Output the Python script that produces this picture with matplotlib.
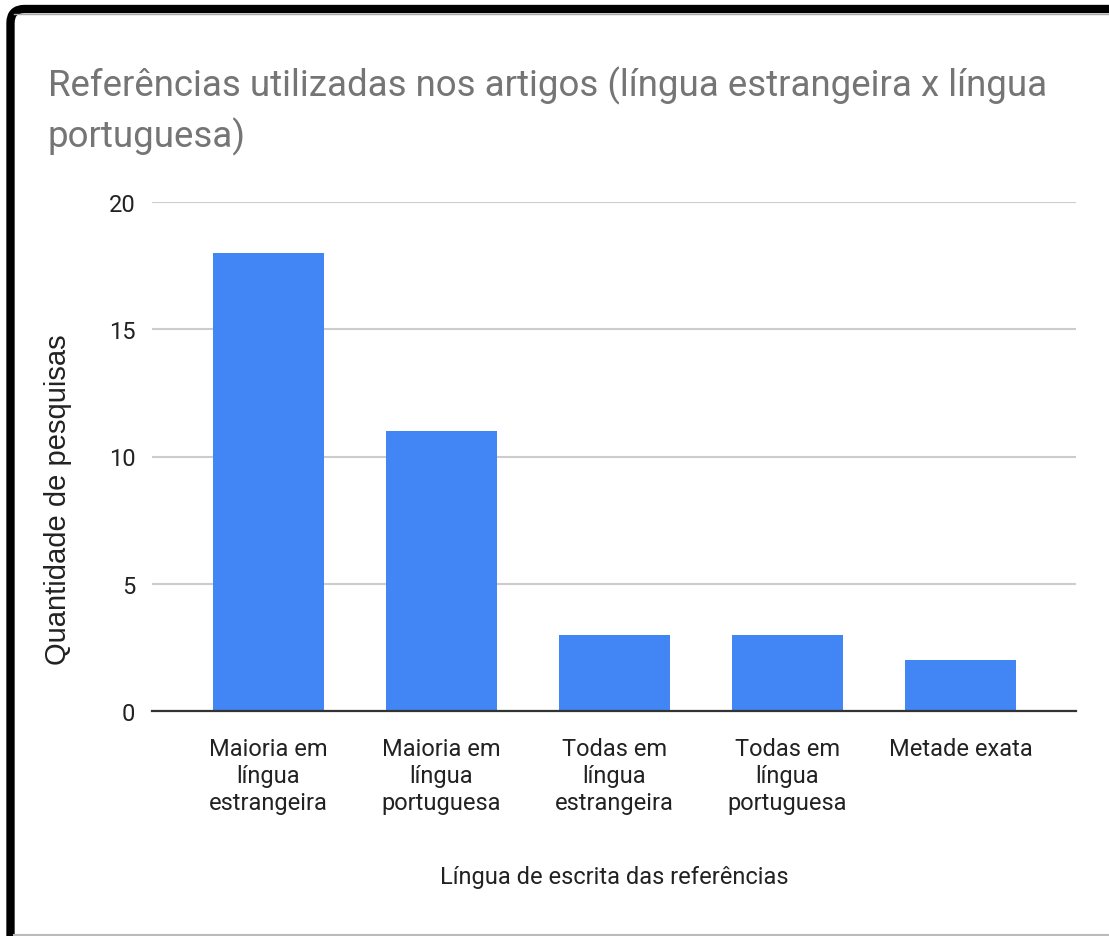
import matplotlib
matplotlib.use("Agg")
import matplotlib.pyplot as plt
from matplotlib.path import Path
from matplotlib.patches import PathPatch
from matplotlib.lines import Line2D

categories = [
    "Maioria em\nlíngua\nestrangeira",
    "Maioria em\nlíngua\nportuguesa",
    "Todas em\nlíngua\nestrangeira",
    "Todas em\nlíngua\nportuguesa",
    "Metade exata",
]
values = [18, 11, 3, 3, 2]
y_ticks = [0, 5, 10, 15, 20]

title = "Referências utilizadas nos artigos (língua estrangeira x língua\nportuguesa)"
x_label = "Língua de escrita das referências"
y_label = "Quantidade de pesquisas"

NARROW = ["Roboto", "DejaVu Sans"]
REGULAR = ["Liberation Sans", "DejaVu Sans"]
BLUE = "#4285f4"
TEXT = "#222222"

W, H = 1109, 937
fig = plt.figure(figsize=(W / 100, H / 100), dpi=100)
fig.patch.set_facecolor("white")

ax = fig.add_axes([152 / W, 1 - 712 / H, (1076 - 152) / W, (712 - 203) / H])
x = list(range(len(categories)))
ax.bar(x, values, width=0.64, color=BLUE, zorder=3)

ax.set_xlim(-0.673, 4.667)
ax.set_ylim(0, 20)
ax.set_yticks(y_ticks)
ax.set_xticks(x)
ax.set_xticklabels(categories, fontfamily=NARROW, fontsize=17, color=TEXT,
                   linespacing=1.2)
ax.set_yticklabels([str(t) for t in y_ticks], fontfamily=NARROW, fontsize=17,
                   color=TEXT)
ax.tick_params(axis="both", length=0)
ax.tick_params(axis="x", pad=19)
ax.tick_params(axis="y", pad=12)

for s in ["top", "right", "left"]:
    ax.spines[s].set_visible(False)
ax.spines["bottom"].set_color("#333333")
ax.spines["bottom"].set_linewidth(1.6)
ax.spines["bottom"].set_zorder(4)
ax.yaxis.grid(True, color="#cccccc", linewidth=1.5, zorder=0)
ax.set_axisbelow(True)

ax.set_xlabel(x_label, fontfamily=NARROW, fontsize=17, color=TEXT, labelpad=37)
fig.text(58 / W, 1 - 500 / H, y_label, rotation=90, ha="center", va="center",
         fontfamily=REGULAR, fontsize=21, color=TEXT)

fig.text(48 / W, 1 - 67 / H, title, ha="left", va="top", fontfamily=NARROW,
         fontsize=26.4, color="#757575", linespacing=1.42)

# frame: thick black edge along the left and top with a rounded corner
r = 14
verts = [(10.5, H + 5), (10.5, r + 10), (10.5, 10), (10.5 + r, 10), (W + 5, 10)]
codes = [Path.MOVETO, Path.LINETO, Path.CURVE3, Path.CURVE3, Path.LINETO]
verts_fig = [(vx / W, 1 - vy / H) for vx, vy in verts]
fig.patches.append(PathPatch(Path(verts_fig, codes), transform=fig.transFigure,
                             fill=False, edgecolor="black", linewidth=6.0,
                             capstyle="butt", joinstyle="round"))
fig.lines.append(Line2D([14 / W, 1], [1 - 15 / H, 1 - 15 / H], transform=fig.transFigure,
                        color="#aaaaaa", linewidth=1.0))
fig.lines.append(Line2D([14 / W, 1], [1 - 935.5 / H, 1 - 935.5 / H], transform=fig.transFigure,
                        color="#bbbbbb", linewidth=1.5))

fig.savefig("out.png", dpi=100)
